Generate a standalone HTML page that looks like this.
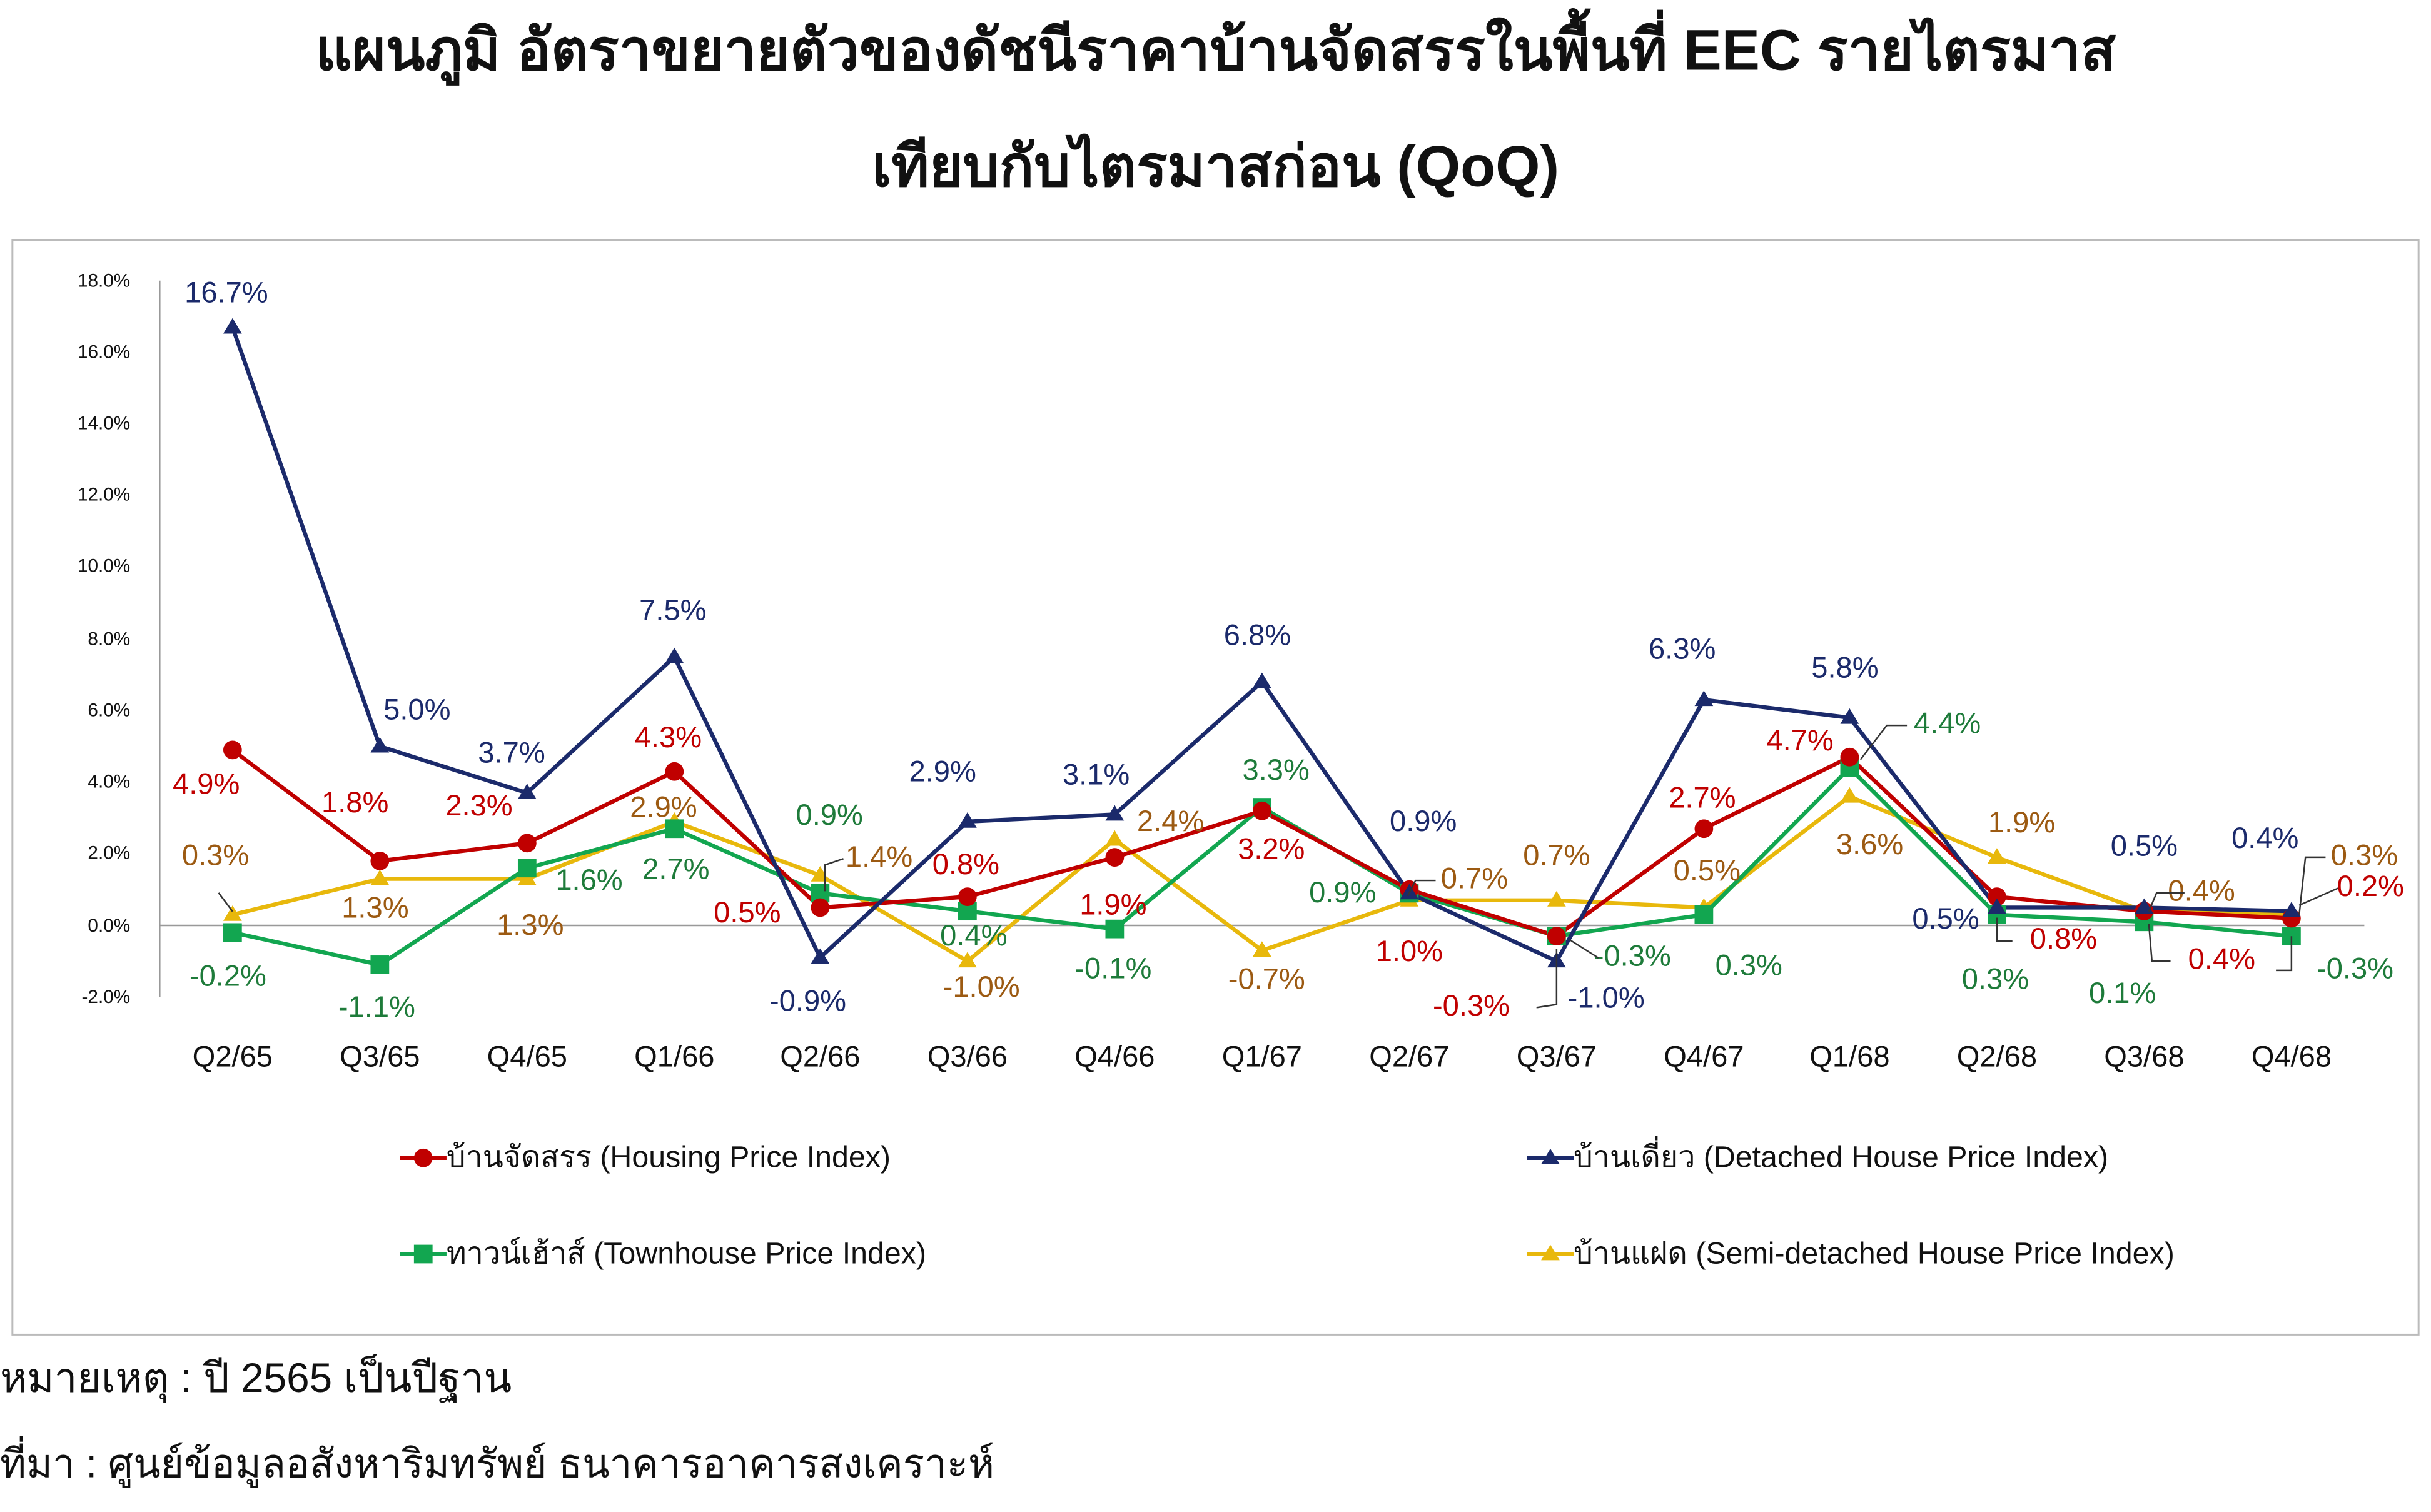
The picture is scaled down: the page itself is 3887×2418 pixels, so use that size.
<!DOCTYPE html>
<html><head><meta charset="utf-8"><style>
html,body{margin:0;padding:0;background:#fff;}
svg{display:block;}
text{font-family:"Liberation Sans","Noto Sans CJK SC",sans-serif;}
.t{font-family:"Liberation Sans","Noto Sans CJK SC","WenQuanYi Zen Hei",sans-serif;}
</style></head><body>
<svg width="3887" height="2418" viewBox="0 0 1568 975.4" preserveAspectRatio="none" xmlns="http://www.w3.org/2000/svg">
<defs>
<path id="tri" d="M0,-6 l6,10 h-12z"/>
<rect id="sq" x="-6" y="-6" width="12" height="12"/>
<circle id="ci" r="6"/>
</defs>
<text class="t" x="784" y="45" text-anchor="middle" font-size="37" font-weight="bold" fill="#111">แผนภูมิ อัตราขยายตัวของดัชนีราคาบ้านจัดสรรในพื้นที่ EEC รายไตรมาส</text>
<text class="t" x="784" y="120" text-anchor="middle" font-size="37" font-weight="bold" fill="#111">เทียบกับไตรมาสก่อน (QoQ)</text>
<rect x="8" y="155" width="1552" height="706" fill="#fff" stroke="#bbb" stroke-width="1.2"/>
<g font-size="12" fill="#111" text-anchor="end">
<text x="84" y="185">18.0%</text><text x="84" y="231">16.0%</text><text x="84" y="277">14.0%</text>
<text x="84" y="323">12.0%</text><text x="84" y="369">10.0%</text><text x="84" y="416">8.0%</text>
<text x="84" y="462">6.0%</text><text x="84" y="508">4.0%</text><text x="84" y="554">2.0%</text>
<text x="84" y="601">0.0%</text><text x="84" y="647">-2.0%</text>
</g>
<line x1="103" y1="181" x2="103" y2="643" stroke="#999" stroke-width="1"/>
<line x1="103" y1="597" x2="1525" y2="597" stroke="#999" stroke-width="1"/>
<g font-size="19" fill="#111" text-anchor="middle">
<text x="150" y="688">Q2/65</text><text x="245" y="688">Q3/65</text><text x="340" y="688">Q4/65</text>
<text x="435" y="688">Q1/66</text><text x="529" y="688">Q2/66</text><text x="624" y="688">Q3/66</text>
<text x="719" y="688">Q4/66</text><text x="814" y="688">Q1/67</text><text x="909" y="688">Q2/67</text>
<text x="1004" y="688">Q3/67</text><text x="1099" y="688">Q4/67</text><text x="1193" y="688">Q1/68</text>
<text x="1288" y="688">Q2/68</text><text x="1383" y="688">Q3/68</text><text x="1478" y="688">Q4/68</text>
</g>
<g fill="none" stroke-width="2.6" stroke-linejoin="round">
<polyline stroke="#E8B80C" points="150,590.1 245,567 340,567 435,530 529,564.7 624,620.1 719,541.6 814,613.2 909,580.8 1004,580.8 1099,585.5 1193,513.8 1288,553.1 1383,587.8 1478,590.1"/>
<polyline stroke="#12A650" points="150,601.6 245,622.4 340,560 435,534.6 529,576.2 624,587.8 719,599.3 814,520.8 909,576.2 1004,603.9 1099,590.1 1193,495.4 1288,590.1 1383,594.7 1478,603.9"/>
<polyline stroke="#C00000" points="150,483.8 245,555.4 340,543.9 435,497.7 529,585.5 624,578.5 719,553.1 814,523.1 909,573.9 1004,603.9 1099,534.6 1193,488.4 1288,578.5 1383,587.8 1478,592.4"/>
<polyline stroke="#1B2A6B" points="150,211.2 245,481.5 340,511.5 435,423.8 529,617.8 624,530 719,525.4 814,439.9 909,576.2 1004,620.1 1099,451.5 1193,463 1288,585.5 1383,585.5 1478,587.8"/>
</g>
<g fill="#E8B80C">
<use href="#tri" x="150" y="590.1"/><use href="#tri" x="245" y="567"/><use href="#tri" x="340" y="567"/><use href="#tri" x="435" y="530"/><use href="#tri" x="529" y="564.7"/><use href="#tri" x="624" y="620.1"/><use href="#tri" x="719" y="541.6"/><use href="#tri" x="814" y="613.2"/><use href="#tri" x="909" y="580.8"/><use href="#tri" x="1004" y="580.8"/><use href="#tri" x="1099" y="585.5"/><use href="#tri" x="1193" y="513.8"/><use href="#tri" x="1288" y="553.1"/><use href="#tri" x="1383" y="587.8"/><use href="#tri" x="1478" y="590.1"/>
</g>
<g fill="#12A650">
<use href="#sq" x="150" y="601.6"/><use href="#sq" x="245" y="622.4"/><use href="#sq" x="340" y="560"/><use href="#sq" x="435" y="534.6"/><use href="#sq" x="529" y="576.2"/><use href="#sq" x="624" y="587.8"/><use href="#sq" x="719" y="599.3"/><use href="#sq" x="814" y="520.8"/><use href="#sq" x="909" y="576.2"/><use href="#sq" x="1004" y="603.9"/><use href="#sq" x="1099" y="590.1"/><use href="#sq" x="1193" y="495.4"/><use href="#sq" x="1288" y="590.1"/><use href="#sq" x="1383" y="594.7"/><use href="#sq" x="1478" y="603.9"/>
</g>
<g fill="#C00000">
<use href="#ci" x="150" y="483.8"/><use href="#ci" x="245" y="555.4"/><use href="#ci" x="340" y="543.9"/><use href="#ci" x="435" y="497.7"/><use href="#ci" x="529" y="585.5"/><use href="#ci" x="624" y="578.5"/><use href="#ci" x="719" y="553.1"/><use href="#ci" x="814" y="523.1"/><use href="#ci" x="909" y="573.9"/><use href="#ci" x="1004" y="603.9"/><use href="#ci" x="1099" y="534.6"/><use href="#ci" x="1193" y="488.4"/><use href="#ci" x="1288" y="578.5"/><use href="#ci" x="1383" y="587.8"/><use href="#ci" x="1478" y="592.4"/>
</g>
<g fill="#1B2A6B">
<use href="#tri" x="150" y="211.2"/><use href="#tri" x="245" y="481.5"/><use href="#tri" x="340" y="511.5"/><use href="#tri" x="435" y="423.8"/><use href="#tri" x="529" y="617.8"/><use href="#tri" x="624" y="530"/><use href="#tri" x="719" y="525.4"/><use href="#tri" x="814" y="439.9"/><use href="#tri" x="909" y="576.2"/><use href="#tri" x="1004" y="620.1"/><use href="#tri" x="1099" y="451.5"/><use href="#tri" x="1193" y="463"/><use href="#tri" x="1288" y="585.5"/><use href="#tri" x="1383" y="585.5"/><use href="#tri" x="1478" y="587.8"/>
</g>
<g font-size="19" text-anchor="middle" dominant-baseline="middle">
<g fill="#1B2A6B"><text x="146" y="190">16.7%</text><text x="269" y="459">5.0%</text><text x="330" y="487">3.7%</text><text x="434" y="395">7.5%</text><text x="521" y="647">-0.9%</text><text x="608" y="499">2.9%</text><text x="707" y="501">3.1%</text><text x="811" y="411">6.8%</text><text x="918" y="531">0.9%</text><text x="1036" y="645">-1.0%</text><text x="1085" y="420">6.3%</text><text x="1190" y="432">5.8%</text><text x="1255" y="594">0.5%</text><text x="1383" y="547">0.5%</text><text x="1461" y="542">0.4%</text></g>
<g fill="#C00000"><text x="133" y="507">4.9%</text><text x="229" y="519">1.8%</text><text x="309" y="521">2.3%</text><text x="431" y="477">4.3%</text><text x="482" y="590">0.5%</text><text x="623" y="559">0.8%</text><text x="718" y="585">1.9%</text><text x="820" y="549">3.2%</text><text x="909" y="615">1.0%</text><text x="949" y="650">-0.3%</text><text x="1098" y="516">2.7%</text><text x="1161" y="479">4.7%</text><text x="1331" y="607">0.8%</text><text x="1433" y="620">0.4%</text><text x="1529" y="573">0.2%</text></g>
<g fill="#1E7B3A"><text x="147" y="631">-0.2%</text><text x="243" y="651">-1.1%</text><text x="380" y="569">1.6%</text><text x="436" y="562">2.7%</text><text x="535" y="527">0.9%</text><text x="628" y="605">0.4%</text><text x="718" y="626">-0.1%</text><text x="823" y="498">3.3%</text><text x="866" y="577">0.9%</text><text x="1053" y="618">-0.3%</text><text x="1128" y="624">0.3%</text><text x="1256" y="468">4.4%</text><text x="1287" y="633">0.3%</text><text x="1369" y="642">0.1%</text><text x="1519" y="626">-0.3%</text></g>
<g fill="#9C5A12"><text x="139" y="553">0.3%</text><text x="242" y="587">1.3%</text><text x="342" y="598">1.3%</text><text x="428" y="522">2.9%</text><text x="567" y="554">1.4%</text><text x="633" y="638">-1.0%</text><text x="755" y="531">2.4%</text><text x="817" y="633">-0.7%</text><text x="951" y="568">0.7%</text><text x="1004" y="553">0.7%</text><text x="1101" y="563">0.5%</text><text x="1206" y="546">3.6%</text><text x="1304" y="532">1.9%</text><text x="1420" y="576">0.4%</text><text x="1525" y="553">0.3%</text></g>
</g>
<g stroke="#333" stroke-width="1" fill="none">
<path d="M141,576 L150,588"/><path d="M544,554 L532,558 L532,575"/><path d="M1298,607 L1288,607 L1288,592"/><path d="M1400,620 L1388,620 L1386,596"/><path d="M1508,573 L1483,584"/><path d="M1500,553 L1487,553 L1483,590"/><path d="M1468,626 L1478,626 L1478,604"/><path d="M1409,576 L1391,576 L1386,588"/><path d="M1031,618 L1012,606"/><path d="M991,650 L1004,648 L1004,612"/><path d="M1230,468 L1217,468 L1200,490"/><path d="M926,568 L913,568 L908,578"/>
</g>
<g font-size="19.5" class="t" fill="#111">
<line x1="258" y1="747" x2="288" y2="747" stroke="#C00000" stroke-width="2.6"/><circle cx="273" cy="747" r="6" fill="#C00000"/>
<text x="288" y="753">บ้านจัดสรร (Housing Price Index)</text>
<line x1="985" y1="747" x2="1015" y2="747" stroke="#1B2A6B" stroke-width="2.6"/><path d="M1000,741 l6,10 h-12z" fill="#1B2A6B"/>
<text x="1015" y="753">บ้านเดี่ยว (Detached House Price Index)</text>
<line x1="258" y1="809" x2="288" y2="809" stroke="#12A650" stroke-width="2.6"/><rect x="267" y="803" width="12" height="12" fill="#12A650"/>
<text x="288" y="815">ทาวน์เฮ้าส์ (Townhouse Price Index)</text>
<line x1="985" y1="809" x2="1015" y2="809" stroke="#E8B80C" stroke-width="2.6"/><path d="M1000,803 l6,10 h-12z" fill="#E8B80C"/>
<text x="1015" y="815">บ้านแฝด (Semi-detached House Price Index)</text>
</g>
<text class="t" x="0" y="898" font-size="26.5" fill="#111">หมายเหตุ : ปี 2565 เป็นปีฐาน</text>
<text class="t" x="0" y="953" font-size="25.7" fill="#111">ที่มา : ศูนย์ข้อมูลอสังหาริมทรัพย์ ธนาคารอาคารสงเคราะห์</text>
</svg>
</body></html>
